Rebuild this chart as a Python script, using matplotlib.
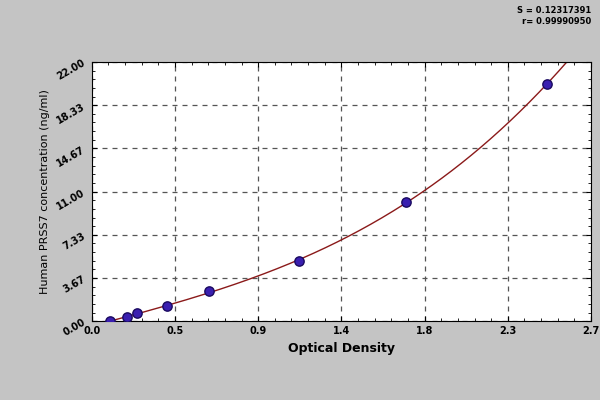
import numpy as np
import matplotlib
matplotlib.use("Agg")
import matplotlib.pyplot as plt

od = [0.098, 0.19, 0.244, 0.407, 0.634, 1.12, 1.70, 2.46]
conc = [0.0, 0.34, 0.68, 1.27, 2.55, 5.1, 10.1, 20.1]
xticks = [0.0, 0.45, 0.9, 1.35, 1.8, 2.25, 2.7]
xlabels = ["0.0", "0.5", "0.9", "1.4", "1.8", "2.3", "2.7"]
yticks = [0, 3.667, 7.333, 11.0, 14.667, 18.333, 22.0]
ylabels = ["0.00", "3.67", "7.33", "11.00", "14.67", "18.33", "22.00"]

fig = plt.figure(figsize=(6, 4), dpi=100, facecolor="#c4c4c4")
ax = fig.add_axes([0.153, 0.197, 0.832, 0.648])
ax.set_facecolor("white")
c = np.polyfit(od, conc, 3)
xs = np.linspace(0.08, 2.7, 300)
ax.plot(xs, np.polyval(c, xs), color="#8b1a1a", lw=1)
ax.scatter(od, conc, s=45, color="#3a1fb0", edgecolor="#1a0a60", zorder=3)
ax.set_xlim(0, 2.7)
ax.set_ylim(0, 22)
ax.set_xticks(xticks, xlabels, fontsize=7, fontweight="bold")
ax.set_yticks(yticks, ylabels, fontsize=7, fontweight="bold", rotation=30)
ax.set_xticks(np.arange(0, 2.7, 0.09), minor=True)
ax.set_yticks(np.arange(0, 22, 0.7333), minor=True)
ax.tick_params(which="both", direction="in", top=True, right=True)
ax.grid(True, which="major", linestyle=(0, (4, 4)), color="#555555", lw=0.9)
ax.set_xlabel("Optical Density", fontsize=9, fontweight="bold")
ax.set_ylabel("Human PRSS7 concentration (ng/ml)", fontsize=8)
for s in ax.spines.values():
    s.set_color("black")
fig.text(0.985, 0.96, "S = 0.12317391\nr= 0.99990950", ha="right", va="center", fontsize=6, fontweight="bold", linespacing=1.4)
fig.savefig("out.png")
